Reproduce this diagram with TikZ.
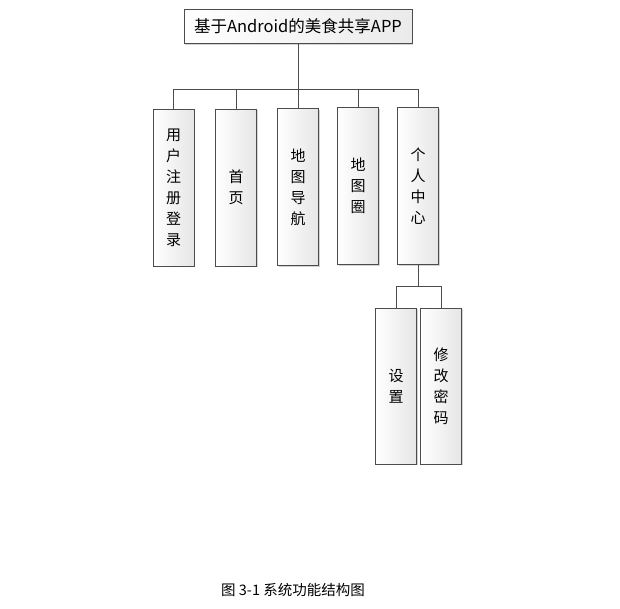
\documentclass[tikz,border=0pt]{standalone}
\usepackage{fontspec}
\setmainfont{Noto Sans CJK SC}
\usetikzlibrary{positioning,shadows}

\begin{document}
\begin{tikzpicture}[x=1pt,y=-1pt,
                    block_top/.style ={rectangle, draw=black!70, left color=white, right color=black!8,
                        minimum width=228pt, minimum height=34pt, inner sep=0pt,
                        drop shadow={shadow xshift=1pt, shadow yshift=-1pt, opacity=0.35},
                        font=\fontsize{16.5}{19}\selectfont},
                    block_tall/.style ={rectangle, draw=black!70, left color=white, right color=black!10,
                        minimum width=41pt, minimum height=157pt, inner sep=0pt, align=center,
                        drop shadow={shadow xshift=1pt, shadow yshift=-1pt, opacity=0.35},
                        font=\fontsize{15}{21}\selectfont},
                    line/.style ={draw, black!70, line width=0.8pt}]
    \useasboundingbox (0,0) rectangle (620,608);

    % top level
    \node [block_top] (app) at (298,26.5) {基于Android的美食共享APP};

    % second level
    \node [block_tall] (user) at (173.5,187.5) {用\\户\\注\\册\\登\\录};
    \node [block_tall] (home) at (236,187.5) {首\\页};
    \node [block_tall] (nav) at (298,187) {地\\图\\导\\航};
    \node [block_tall] (circle) at (358,186) {地\\图\\圈};
    \node [block_tall] (me) at (418,186) {个\\人\\中\\心};

    % third level
    \node [block_tall, minimum height=156pt] (set) at (396,386) {设\\置};
    \node [block_tall, minimum height=156pt] (pwd) at (441,386) {修\\改\\密\\码};

    % caption
    \node [font=\fontsize{14.5}{17}\selectfont] (caption) at (293,590) {图 3-1 系统功能结构图};

    % connecting nodes with paths
    \coordinate (bus) at (298,89);
    \coordinate (subbus) at (418,286);
    \begin{scope}[every path/.style=line]
        \path (app) -- (bus);
        \path (bus) -| (user.north);
        \path (bus) -| (home.north);
        \path (bus) -- (nav.north);
        \path (bus) -| (circle.north);
        \path (bus) -| (me.north);
        \path (me) -- (subbus);
        \path (subbus) -| (set.north);
        \path (subbus) -| (pwd.north);
    \end{scope}
\end{tikzpicture}
\end{document}
